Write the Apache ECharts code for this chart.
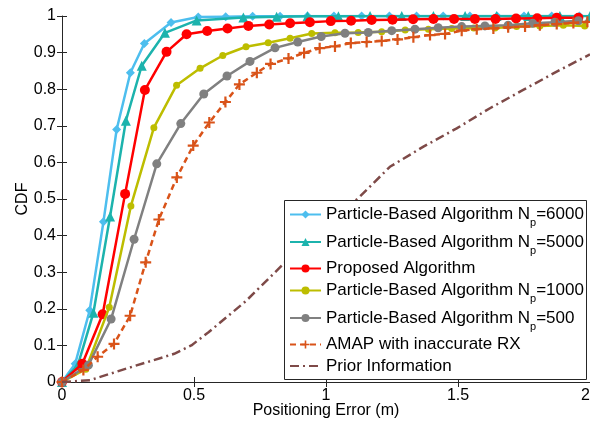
<!DOCTYPE html>
<html>
<head>
<meta charset="utf-8">
<script src="https://cdn.jsdelivr.net/npm/echarts@6/dist/echarts.min.js"></script>
<style>
html,body{margin:0;padding:0;background:#fff;}
#c{width:590px;height:423px;}
</style>
</head>
<body>
<div id="c"></div>
<script>
// ---- data ----
const xTickLabels = ['0', '0.5', '1', '1.5', '2'];
const yTickLabels = ['0', '0.1', '0.2', '0.3', '0.4', '0.5', '0.6', '0.7', '0.8', '0.9', '1'];

const seriesNames = [
  'Particle-Based Algorithm N_p=6000',
  'Particle-Based Algorithm N_p=5000',
  'Proposed Algorithm',
  'Particle-Based Algorithm N_p=1000',
  'Particle-Based Algorithm N_p=500',
  'AMAP with inaccurate RX',
  'Prior Information'
];

const x6000 = [0, 0.05, 0.105, 0.157, 0.207, 0.259, 0.312, 0.413, 0.516, 0.62, 0.722, 0.826, 0.93, 1.03, 1.135, 1.24, 1.343, 1.444, 1.545, 1.648, 1.75, 1.855, 1.96];
const y6000 = [0, 0.05, 0.196, 0.438, 0.69, 0.845, 0.925, 0.982, 0.997, 0.998, 0.999, 0.999, 1, 1, 1, 1, 1, 1, 1, 1, 1, 1, 1];

const x5000 = [0, 0.06, 0.119, 0.182, 0.242, 0.302, 0.39, 0.51, 0.687, 0.813, 0.93, 1.047, 1.167, 1.287, 1.407, 1.527, 1.646, 1.766, 1.886, 2.0];
const y5000 = [0, 0.046, 0.189, 0.452, 0.714, 0.864, 0.954, 0.988, 0.996, 0.998, 0.999, 0.999, 1, 1, 1, 1, 1, 1, 1, 1];

const xProp = [0, 0.077, 0.154, 0.239, 0.314, 0.396, 0.472, 0.55, 0.627, 0.706, 0.785, 0.864, 0.939, 1.018, 1.095, 1.173, 1.252, 1.33, 1.407, 1.485, 1.564, 1.642, 1.72, 1.8, 1.874, 1.956];
const yProp = [0, 0.05, 0.185, 0.514, 0.798, 0.902, 0.95, 0.959, 0.966, 0.973, 0.977, 0.98, 0.983, 0.986, 0.987, 0.989, 0.99, 0.991, 0.992, 0.992, 0.992, 0.992, 0.993, 0.994, 0.995, 0.995];

const x1000 = [0, 0.09, 0.179, 0.261, 0.348, 0.434, 0.523, 0.609, 0.697, 0.781, 0.864, 0.946, 1.034, 1.122, 1.211, 1.3, 1.388, 1.476, 1.56, 1.64, 1.722, 1.81, 1.899, 1.98];
const y1000 = [0, 0.035, 0.204, 0.481, 0.695, 0.811, 0.857, 0.892, 0.916, 0.927, 0.939, 0.952, 0.954, 0.955, 0.957, 0.962, 0.964, 0.966, 0.967, 0.967, 0.971, 0.973, 0.975, 0.973];

const x500 = [0, 0.1, 0.186, 0.273, 0.359, 0.45, 0.537, 0.625, 0.712, 0.807, 0.893, 0.982, 1.072, 1.16, 1.249, 1.337, 1.425, 1.514, 1.602, 1.69, 1.783, 1.867, 1.956];
const y500 = [0, 0.046, 0.172, 0.39, 0.596, 0.706, 0.787, 0.836, 0.876, 0.913, 0.929, 0.944, 0.953, 0.955, 0.96, 0.964, 0.968, 0.971, 0.973, 0.975, 0.98, 0.983, 0.987];

const xAmap = [0, 0.081, 0.135, 0.197, 0.258, 0.317, 0.367, 0.435, 0.497, 0.558, 0.619, 0.672, 0.738, 0.79, 0.858, 0.917, 0.976, 1.034, 1.094, 1.154, 1.211, 1.271, 1.331, 1.394, 1.451, 1.514, 1.571, 1.634, 1.69, 1.754, 1.81, 1.874, 1.937, 1.99];
const yAmap = [0, 0.033, 0.069, 0.104, 0.181, 0.327, 0.444, 0.559, 0.646, 0.709, 0.765, 0.813, 0.845, 0.869, 0.884, 0.899, 0.912, 0.917, 0.926, 0.929, 0.932, 0.936, 0.942, 0.948, 0.951, 0.96, 0.964, 0.966, 0.969, 0.971, 0.975, 0.978, 0.981, 0.984];

const xPrior = [0, 0.106, 0.245, 0.425, 0.49, 0.555, 0.695, 0.838, 0.95, 1.03, 1.122, 1.242, 1.369, 1.495, 1.621, 1.747, 1.874, 2.0];
const yPrior = [0, 0.005, 0.037, 0.077, 0.1, 0.136, 0.22, 0.322, 0.4, 0.45, 0.502, 0.588, 0.643, 0.693, 0.748, 0.798, 0.848, 0.895];

// ---- build ----
const zip = (xs, ys) => xs.map((x, i) => [x, ys[i]]);
const FONT = 'Arial, "Liberation Sans", sans-serif';
const AX = '#262626';
const plusPath = 'path://M4,0L6,0L6,4L10,4L10,6L6,6L6,10L4,10L4,6L0,6L0,4L4,4Z';

const styles = [
  {color: '#4DBEEE', symbol: 'diamond', size: 9, show: true, type: 'solid', xs: x6000, ys: y6000},
  {color: '#1CB3AD', symbol: 'triangle', size: 10, show: true, type: 'solid', xs: x5000, ys: y5000},
  {color: '#FF0000', symbol: 'circle', size: 10, show: true, type: 'solid', xs: xProp, ys: yProp},
  {color: '#BDBD00', symbol: 'circle', size: 7, show: true, type: 'solid', xs: x1000, ys: y1000},
  {color: '#808080', symbol: 'circle', size: 9, show: true, type: 'solid', xs: x500, ys: y500},
  {color: '#D95319', symbol: plusPath, size: 11, show: true, type: [6, 4], xs: xAmap, ys: yAmap},
  {color: '#7E4A48', symbol: 'circle', size: 1, show: false, type: [9, 4, 2, 4], xs: xPrior, ys: yPrior}
];

const series = styles.map((s, i) => ({
  name: seriesNames[i],
  type: 'line',
  data: zip(s.xs, s.ys),
  symbol: s.symbol,
  symbolSize: s.size,
  showSymbol: s.show,
  lineStyle: {color: s.color, width: 2.5, type: s.type},
  itemStyle: {color: s.color},
  z: 2 + i * 0.01,
  clip: true
}));

function fmt(name) {
  const parts = name.split('_p');
  if (parts.length === 2) return '{a|' + parts[0] + '}{s|p}{a|' + parts[1] + '}';
  return '{a|' + name + '}';
}

const legendIconY = [214, 241.5, 268, 290, 317.5, 344, 365.5];
const legends = seriesNames.map((n, i) => ({
  data: [styles[i].show ? n : {name: n, itemStyle: {opacity: 0}}],
  left: 289,
  top: legendIconY[i] - 8,
  padding: 0,
  itemWidth: 31,
  itemHeight: 10,
  selectedMode: false,
  z: 10,
  formatter: fmt,
  textStyle: {
    color: '#000',
    rich: {
      a: {fontSize: 17, lineHeight: 28, verticalAlign: 'middle', fontFamily: FONT, color: '#000'},
      s: {fontSize: 11, lineHeight: 13, verticalAlign: 'bottom', fontFamily: FONT, color: '#000'}
    }
  }
}));

const axisCommon = {
  axisLine: {show: true, lineStyle: {color: AX, width: 1}},
  axisTick: {show: true, inside: true, length: 5, lineStyle: {color: AX}},
  splitLine: {show: false}
};

const option = {
  animation: false,
  backgroundColor: '#fff',
  grid: {left: 62, top: 16, width: 528, height: 366, containLabel: false, outerBoundsMode: 'none'},
  xAxis: [
    Object.assign({}, axisCommon, {
      type: 'value', min: 0, max: 2, interval: 0.5, position: 'bottom',
      axisLabel: {formatter: v => xTickLabels[Math.round(v / 0.5)], fontSize: 16, color: '#000', fontFamily: FONT, margin: 6, alignMaxLabel: 'right'},
      name: 'Positioning Error (m)', nameLocation: 'middle', nameGap: 21, nameMoveOverlap: false,
      nameTextStyle: {fontSize: 16, color: '#000', fontFamily: FONT}
    }),
    Object.assign({}, axisCommon, {
      type: 'value', min: 0, max: 2, interval: 0.5, position: 'top',
      axisLabel: {show: false}
    })
  ],
  yAxis: [
    Object.assign({}, axisCommon, {
      type: 'value', min: 0, max: 1, interval: 0.1, position: 'left',
      axisLabel: {formatter: v => yTickLabels[Math.round(v / 0.1)], fontSize: 16, color: '#000', fontFamily: FONT, margin: 6},
      name: 'CDF', nameLocation: 'middle', nameGap: 31, nameRotate: 90, nameMoveOverlap: false,
      nameTextStyle: {fontSize: 16, color: '#000', fontFamily: FONT}
    }),
    Object.assign({}, axisCommon, {
      type: 'value', min: 0, max: 1, interval: 0.1, position: 'right',
      axisLine: {show: false},
      axisLabel: {show: false}
    })
  ],
  legend: legends,
  graphic: [{
    type: 'rect', z: 5,
    shape: {x: 284.5, y: 200.5, width: 302, height: 179},
    style: {fill: '#fff', stroke: AX, lineWidth: 1}
  }],
  series: series
};

const chart = echarts.init(document.getElementById('c'), null, {renderer: 'canvas'});
chart.setOption(option);
</script>
</body>
</html>
